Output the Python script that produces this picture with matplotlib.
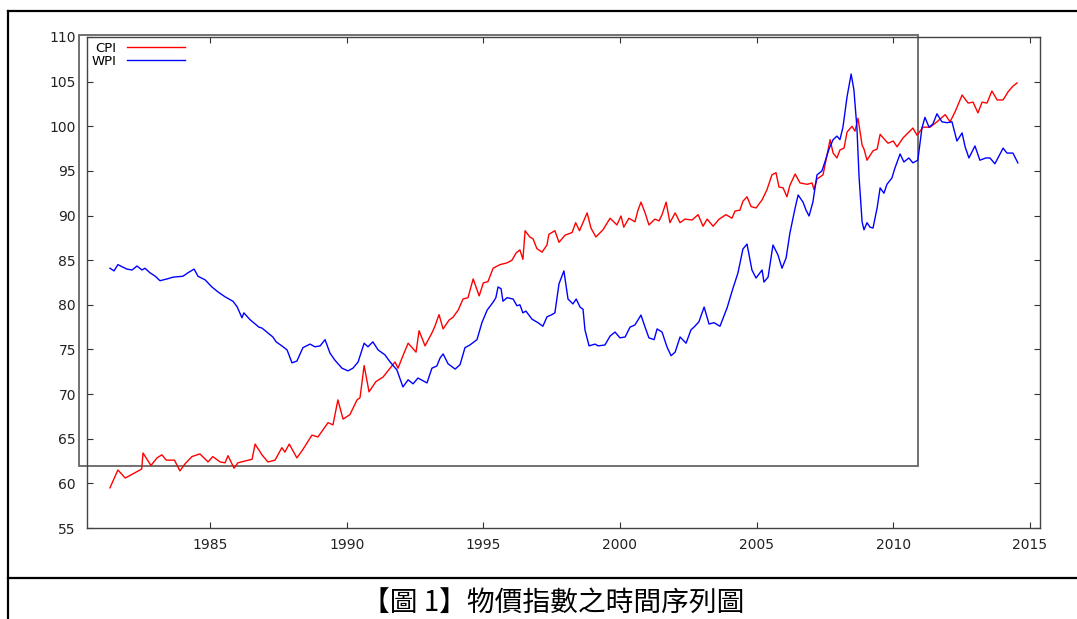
import matplotlib
matplotlib.use('Agg')
from matplotlib import pyplot as plt
from matplotlib.lines import Line2D
from matplotlib.patches import Rectangle

# values (decimal year, index)
cpi_year = [1981.34, 1981.63, 1981.90, 1982.20, 1982.50, 1982.55, 1982.84, 1983.06, 1983.24, 1983.40,
            1983.70, 1983.90, 1984.09, 1984.34, 1984.63, 1984.93, 1985.10, 1985.37, 1985.55, 1985.66,
            1985.88, 1986.02, 1986.54, 1986.65, 1986.90, 1987.12, 1987.38, 1987.63, 1987.74, 1987.90,
            1988.18, 1988.40, 1988.73, 1988.95, 1989.32, 1989.50, 1989.68, 1989.87, 1990.12, 1990.38,
            1990.49, 1990.64, 1990.82, 1991.07, 1991.33, 1991.59, 1991.77, 1991.88, 1992.06, 1992.25,
            1992.54, 1992.65, 1992.87, 1993.12, 1993.23, 1993.38, 1993.53, 1993.75, 1993.89, 1994.08,
            1994.26, 1994.44, 1994.63, 1994.85, 1995.00, 1995.17, 1995.36, 1995.61, 1995.87, 1996.05,
            1996.20, 1996.34, 1996.45, 1996.53, 1996.70, 1996.82, 1996.96, 1997.15, 1997.33, 1997.40,
            1997.62, 1997.77, 1997.99, 1998.25, 1998.38, 1998.52, 1998.80, 1998.94, 1999.12, 1999.38,
            1999.64, 1999.89, 2000.04, 2000.14, 2000.33, 2000.55, 2000.66, 2000.77, 2000.92, 2001.06,
            2001.28, 2001.43, 2001.54, 2001.69, 2001.83, 2002.02, 2002.20, 2002.38, 2002.64, 2002.86,
            2003.04, 2003.19, 2003.41, 2003.63, 2003.88, 2004.10, 2004.21, 2004.39, 2004.50, 2004.65,
            2004.80, 2004.98, 2005.20, 2005.38, 2005.56, 2005.71, 2005.82, 2005.97, 2006.11, 2006.22,
            2006.41, 2006.59, 2006.85, 2007.03, 2007.10, 2007.21, 2007.43, 2007.69, 2007.80, 2007.94,
            2008.05, 2008.20, 2008.31, 2008.49, 2008.60, 2008.71, 2008.86, 2008.93, 2009.04, 2009.26,
            2009.41, 2009.52, 2009.63, 2009.81, 2010.00, 2010.14, 2010.36, 2010.72, 2010.87, 2011.09,
            2011.35, 2011.60, 2011.90, 2012.08, 2012.26, 2012.52, 2012.74, 2012.92, 2013.10, 2013.25,
            2013.43, 2013.61, 2013.80, 2014.02, 2014.20, 2014.38, 2014.53]
cpi_value = [59.5, 61.5, 60.6, 61.1, 61.6, 63.4, 62.0, 62.85, 63.2, 62.6,
             62.6, 61.4, 62.2, 63.0, 63.3, 62.4, 63.0, 62.4, 62.3, 63.1,
             61.7, 62.3, 62.7, 64.4, 63.2, 62.4, 62.6, 64.0, 63.5, 64.4,
             62.85, 63.8, 65.4, 65.2, 66.8, 66.55, 69.35, 67.2, 67.7, 69.35,
             69.6, 73.2, 70.25, 71.4, 71.9, 72.9, 73.6, 72.9, 74.3, 75.7,
             74.7, 77.1, 75.4, 76.85, 77.6, 78.9, 77.3, 78.3, 78.6, 79.4,
             80.65, 80.8, 82.9, 81.0, 82.45, 82.6, 84.1, 84.5, 84.7, 85.0,
             85.8, 86.15, 85.1, 88.3, 87.6, 87.4, 86.3, 85.9, 86.7, 87.9,
             88.3, 87.0, 87.8, 88.1, 89.2, 88.3, 90.3, 88.6, 87.6, 88.4,
             89.7, 88.95, 89.95, 88.7, 89.7, 89.3, 90.6, 91.5, 90.3, 88.95,
             89.6, 89.4, 90.1, 91.5, 89.2, 90.3, 89.2, 89.6, 89.5, 90.1,
             88.8, 89.6, 88.8, 89.6, 90.1, 89.7, 90.5, 90.6, 91.6, 92.1,
             91.0, 90.85, 91.75, 92.9, 94.55, 94.8, 93.2, 93.1, 92.1, 93.4,
             94.65, 93.65, 93.5, 93.65, 92.9, 94.1, 94.55, 98.5, 97.0, 96.45,
             97.35, 97.55, 99.35, 100.0, 99.45, 100.9, 97.9, 97.45, 96.2, 97.25,
             97.45, 99.1, 98.7, 98.1, 98.35, 97.7, 98.7, 99.8, 99.0, 99.9,
             99.9, 100.5, 101.3, 100.5, 101.6, 103.5, 102.6, 102.7, 101.5, 102.7,
             102.6, 103.95, 102.95, 102.95, 103.85, 104.5, 104.85]

wpi_year = [1981.34, 1981.49, 1981.63, 1981.96, 1982.15, 1982.33, 1982.51, 1982.62, 1982.80, 1983.00,
            1983.17, 1983.43, 1983.65, 1984.01, 1984.20, 1984.42, 1984.56, 1984.82, 1985.07, 1985.29,
            1985.55, 1985.84, 1985.99, 1986.17, 1986.24, 1986.46, 1986.79, 1986.90, 1987.12, 1987.30,
            1987.42, 1987.63, 1987.82, 1988.00, 1988.18, 1988.40, 1988.66, 1988.84, 1989.03, 1989.21,
            1989.39, 1989.57, 1989.83, 1990.05, 1990.23, 1990.42, 1990.64, 1990.78, 1990.96, 1991.15,
            1991.40, 1991.59, 1991.84, 1992.06, 1992.25, 1992.43, 1992.61, 1992.94, 1993.12, 1993.30,
            1993.42, 1993.53, 1993.71, 1993.97, 1994.15, 1994.33, 1994.51, 1994.77, 1994.95, 1995.14,
            1995.36, 1995.46, 1995.54, 1995.65, 1995.72, 1995.87, 1996.09, 1996.23, 1996.34, 1996.45,
            1996.56, 1996.78, 1997.00, 1997.18, 1997.33, 1997.51, 1997.62, 1997.77, 1997.95, 1998.10,
            1998.28, 1998.40, 1998.54, 1998.65, 1998.72, 1998.87, 1999.09, 1999.20, 1999.45, 1999.64,
            1999.82, 2000.00, 2000.19, 2000.37, 2000.55, 2000.77, 2000.92, 2001.06, 2001.25, 2001.36,
            2001.54, 2001.72, 2001.87, 2002.02, 2002.20, 2002.42, 2002.60, 2002.71, 2002.89, 2003.08,
            2003.26, 2003.44, 2003.66, 2003.92, 2004.10, 2004.32, 2004.50, 2004.65, 2004.83, 2004.98,
            2005.20, 2005.27, 2005.42, 2005.60, 2005.78, 2005.93, 2006.08, 2006.22, 2006.41, 2006.52,
            2006.70, 2006.81, 2006.92, 2007.06, 2007.21, 2007.39, 2007.50, 2007.65, 2007.80, 2007.94,
            2008.05, 2008.16, 2008.31, 2008.46, 2008.56, 2008.67, 2008.75, 2008.86, 2008.93, 2009.04,
            2009.15, 2009.26, 2009.41, 2009.52, 2009.66, 2009.77, 2009.95, 2010.06, 2010.25, 2010.39,
            2010.57, 2010.72, 2010.90, 2011.05, 2011.16, 2011.31, 2011.45, 2011.60, 2011.78, 2011.97,
            2012.15, 2012.33, 2012.52, 2012.63, 2012.77, 2012.99, 2013.17, 2013.39, 2013.54, 2013.72,
            2014.02, 2014.16, 2014.38, 2014.56]
wpi_value = [84.1, 83.8, 84.5, 84.0, 83.9, 84.35, 83.9, 84.1, 83.6, 83.2,
             82.7, 82.9, 83.1, 83.2, 83.6, 84.0, 83.2, 82.8, 82.0, 81.45,
             80.9, 80.4, 79.8, 78.55, 79.1, 78.35, 77.5, 77.4, 76.85, 76.4,
             75.85, 75.4, 74.95, 73.5, 73.7, 75.2, 75.6, 75.3, 75.4, 76.1,
             74.6, 73.8, 72.9, 72.6, 72.9, 73.6, 75.7, 75.3, 75.85, 74.95,
             74.4, 73.6, 72.7, 70.8, 71.6, 71.15, 71.8, 71.25, 72.9, 73.15,
             74.05, 74.5, 73.4, 72.8, 73.3, 75.2, 75.5, 76.1, 78.0, 79.4,
             80.3, 80.8, 82.0, 81.8, 80.4, 80.8, 80.65, 79.9, 80.0, 79.1,
             79.3, 78.4, 78.0, 77.6, 78.65, 78.9, 79.1, 82.35, 83.8, 80.65,
             80.1, 80.65, 79.75, 79.5, 77.2, 75.4, 75.6, 75.4, 75.5, 76.5,
             76.95, 76.3, 76.4, 77.5, 77.75, 78.85, 77.5, 76.3, 76.1, 77.3,
             76.95, 75.3, 74.3, 74.7, 76.4, 75.7, 77.2, 77.5, 78.1, 79.75,
             77.85, 78.0, 77.6, 79.65, 81.5, 83.6, 86.25, 86.8, 83.9, 83.0,
             83.9, 82.55, 83.1, 86.7, 85.6, 84.1, 85.25, 88.05, 90.85, 92.3,
             91.5, 90.6, 89.95, 91.5, 94.55, 95.0, 96.0, 97.45, 98.5, 98.9,
             98.5, 99.9, 103.3, 105.85, 104.1, 99.9, 94.3, 89.3, 88.4, 89.2,
             88.7, 88.6, 90.85, 93.1, 92.5, 93.5, 94.2, 95.3, 96.9, 96.0,
             96.45, 95.9, 96.2, 99.8, 101.0, 99.9, 100.25, 101.4, 100.5, 100.4,
             100.5, 98.35, 99.25, 97.7, 96.45, 97.8, 96.2, 96.45, 96.45, 95.8,
             97.55, 97.0, 97.0, 95.9]

x_ticks = [1985, 1990, 1995, 2000, 2005, 2010, 2015]
y_ticks = [55, 60, 65, 70, 75, 80, 85, 90, 95, 100, 105, 110]
caption = '【圖 1】物價指數之時間序列圖'

W, H = 1077, 619
fig = plt.figure(figsize=(W / 100, H / 100), dpi=100)
ax = fig.add_axes([87 / W, 1 - 528 / H, 953 / W, 491 / H])

ax.plot(cpi_year, cpi_value, color='#ff0000', lw=1.0, label='CPI')
ax.plot(wpi_year, wpi_value, color='#0000ff', lw=1.0, label='WPI')

ax.set_xlim(1980.5, 2015.37)
ax.set_ylim(55, 110)
ax.set_xticks(x_ticks)
ax.set_yticks(y_ticks)
ax.tick_params(direction='in', length=4, width=0.8, color='#333333',
               top=True, right=True, labelsize=10, labelcolor='#222222')
ax.tick_params(axis='x', pad=7)
ax.tick_params(axis='y', pad=8)
for s in ax.spines.values():
    s.set_color('#444444')
    s.set_linewidth(1.0)

# the grey box left over from the key in the original
ax.add_patch(Rectangle((1980.21, 62), 2010.91 - 1980.21, 110.2 - 62, fill=False,
                       ec='#666666', lw=1.3, clip_on=False, zorder=0))

ax.legend(loc='upper left', frameon=False, markerfirst=False, fontsize=9.5,
          handlelength=4.4, handletextpad=0.8, labelspacing=0.0,
          borderaxespad=0.15, borderpad=0.2)

# page frame and caption
fig.add_artist(Line2D([8 / W, 8 / W], [0, 1 - 11 / H], color='black', lw=1.6, transform=fig.transFigure))
fig.add_artist(Line2D([8 / W, 1], [1 - 11 / H, 1 - 11 / H], color='black', lw=1.6, transform=fig.transFigure))
fig.add_artist(Line2D([8 / W, 1], [1 - 578 / H, 1 - 578 / H], color='black', lw=1.6, transform=fig.transFigure))
fig.text(553 / W, 1 - 603 / H, caption, ha='center', va='center', fontsize=20,
         family=['Noto Sans CJK TC', 'DejaVu Sans'])

fig.savefig('out.png', dpi=100)
